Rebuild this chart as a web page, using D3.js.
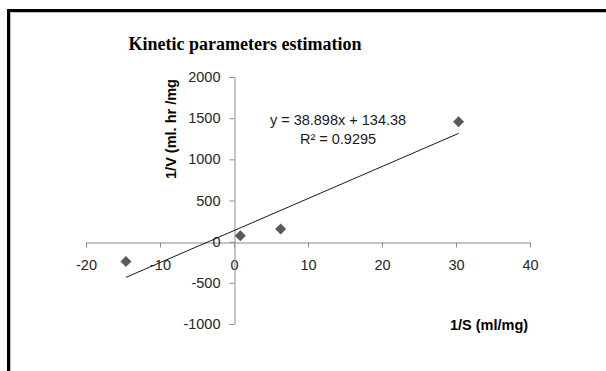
<!DOCTYPE html>
<html>
<head>
<meta charset="utf-8">
<script src="https://cdn.jsdelivr.net/npm/d3@7"></script>
<style>
  body { margin: 0; background: #fff; }
  svg { display: block; }
</style>
</head>
<body>
<div id="chart"></div>
<script>
// Donnees
const invS = [-14.6, 0.85, 6.3, 30.35];
const invV = [-240, 72, 155, 1455];
const slope = 38.898, intercept = 134.38;
const eqText = "y = 38.898x + 134.38";
const r2Text = "R² = 0.9295";
const xTicks = [-20, -10, 0, 10, 20, 30, 40];
const yTicks = [-1000, -500, 0, 500, 1000, 1500, 2000];

const width = 606, height = 371;
const svg = d3.select("#chart")
  .append("svg")
  .attr("width", width)
  .attr("height", height);

// Cadre
svg.append("path")
  .attr("d", `M8.5,${height} V10.5 H${width}`)
  .attr("fill", "none")
  .attr("stroke", "#000")
  .attr("stroke-width", 3);
svg.append("path")
  .attr("d", `M10.5,${height} V12.5 H${width}`)
  .attr("fill", "none")
  .attr("stroke", "#bbb")
  .attr("stroke-width", 1);

// Echelles
const xScale = d3.scaleLinear().domain([-20, 40]).range([86, 530]);
const yScale = d3.scaleLinear().domain([-1000, 2000]).range([324, 77]);

const font = "'Liberation Sans', Arial, sans-serif";
const fmt = d => String(d);

// Axes
const xAxis = d3.axisBottom(xScale).tickValues(xTicks).tickFormat(fmt)
  .tickSize(5).tickSizeOuter(0).tickPadding(12);
const yAxis = d3.axisLeft(yScale).tickValues(yTicks).tickFormat(fmt)
  .tickSize(5).tickSizeOuter(0).tickPadding(9);

const gx = svg.append("g")
  .attr("transform", `translate(0, ${Math.round(yScale(0)) + 0.5})`)
  .call(xAxis);
const gy = svg.append("g")
  .attr("transform", `translate(${Math.round(xScale(0)) + 0.5}, 0)`)
  .call(yAxis);

[gx, gy].forEach(g => {
  g.selectAll("path, line").attr("stroke", "#8c8c8c");
  g.selectAll("text")
    .attr("fill", "#262626")
    .style("font-family", font)
    .style("font-size", "14.5px");
});

// Courbe de tendance
const xExt = d3.extent(invS);
const line = d3.line()
  .x(d => xScale(d))
  .y(d => yScale(slope * d + intercept));
svg.append("path")
  .datum(xExt)
  .attr("d", line)
  .attr("fill", "none")
  .attr("stroke", "#1a1a1a")
  .attr("stroke-width", 1);

// Points
svg.selectAll(".pt")
  .data(invS.map((x, i) => [x, invV[i]]))
  .enter().append("path")
  .attr("class", "pt")
  .attr("transform", d => `translate(${xScale(d[0])},${yScale(d[1])})`)
  .attr("d", "M0,-5.5L5.5,0L0,5.5L-5.5,0Z")
  .attr("fill", "#595959");

// Titre
svg.append("text")
  .attr("x", 245)
  .attr("y", 50)
  .attr("text-anchor", "middle")
  .style("font-family", "'Liberation Serif', 'Times New Roman', serif")
  .style("font-weight", "bold")
  .style("font-size", "18px")
  .text("Kinetic parameters estimation");

// Equation
svg.append("text")
  .attr("x", 338)
  .attr("y", 125)
  .attr("text-anchor", "middle")
  .attr("fill", "#1a1a1a")
  .style("font-family", font)
  .style("font-size", "14.5px")
  .text(eqText);
svg.append("text")
  .attr("x", 338)
  .attr("y", 144)
  .attr("text-anchor", "middle")
  .attr("fill", "#1a1a1a")
  .style("font-family", font)
  .style("font-size", "14.5px")
  .text(r2Text);

// Titres des axes
svg.append("text")
  .attr("transform", "rotate(-90)")
  .attr("x", -129)
  .attr("y", 176)
  .attr("text-anchor", "middle")
  .style("font-family", font)
  .style("font-weight", "bold")
  .style("font-size", "14.5px")
  .text("1/V (ml. hr /mg");

svg.append("text")
  .attr("x", 489)
  .attr("y", 330)
  .attr("text-anchor", "middle")
  .style("font-family", font)
  .style("font-weight", "bold")
  .style("font-size", "14.5px")
  .text("1/S (ml/mg)");
</script>
</body>
</html>
